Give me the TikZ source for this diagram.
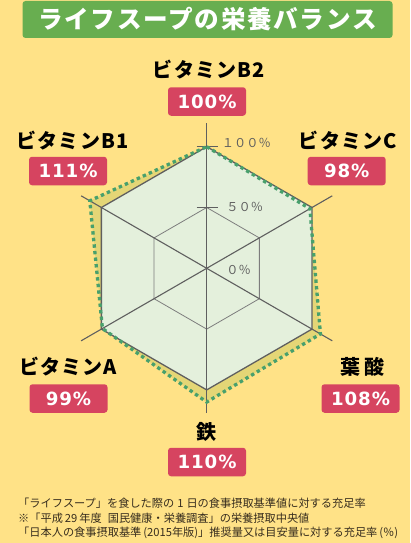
\documentclass[tikz,border=0pt]{standalone}
\usepackage{fontspec}
\newfontfamily\jp{Noto Sans CJK JP}
\newfontfamily\num{DejaVu Sans}
\definecolor{bg}{RGB}{255,226,135}
\definecolor{titlegreen}{RGB}{104,174,80}
\definecolor{badge}{RGB}{214,68,96}
\definecolor{hexfill}{RGB}{228,240,220}
\definecolor{datafill}{RGB}{228,214,118}
\definecolor{datagreen}{RGB}{72,160,108}
\definecolor{axisgray}{RGB}{95,95,95}
\definecolor{gridgray}{RGB}{125,125,125}
\definecolor{notecol}{RGB}{55,45,30}
\tikzset{
  titlebox/.style={fill=titlegreen,text=white,rounded corners=3pt,minimum width=370pt,minimum height=37pt,inner sep=0pt,
    font=\jp\bfseries\fontsize{24.6}{24.6}\selectfont\addfontfeature{LetterSpace=7}},
  lbl/.style={inner sep=0pt,font=\jp\bfseries\fontsize{20}{20}\selectfont\addfontfeature{LetterSpace=6}},
  pct/.style={fill=badge,text=white,rounded corners=3pt,minimum width=78pt,minimum height=28.5pt,inner sep=0pt,
    font=\num\bfseries\fontsize{18.2}{18.2}\selectfont\addfontfeature{LetterSpace=5}},
  scalelbl/.style={inner sep=0pt,anchor=west,text=axisgray,font=\jp\fontsize{12.2}{12.2}\selectfont},
  axisline/.style={draw=axisgray,line width=1.1pt},
  note/.style={inner sep=0pt,anchor=west,text=notecol,font=\jp\fontsize{11.2}{11.2}\selectfont},
  dataline/.style={draw=datagreen,line width=3.3pt,dash pattern=on 3.4pt off 3.2pt}
}
\begin{document}
\begin{tikzpicture}[x=1pt,y=-1pt]
\useasboundingbox (0,0) rectangle (410,543);
\fill[bg] (0,0) rectangle (410,543);
\node[titlebox] (title) at (207.5,19.5) {ライフスープの栄養バランス};

\begin{scope}[shift={(206.7,268.3)},yscale=-1]
\def\R{121.6}
\coordinate (O) at (0,0);
\coordinate (d1) at (90:{1.00*\R});
\coordinate (d2) at (30:{0.98*\R});
\coordinate (d3) at (-30:{1.08*\R});
\coordinate (d4) at (-90:{1.10*\R});
\coordinate (d5) at (-150:{0.99*\R});
\coordinate (d6) at (150:{1.11*\R});
\fill[datafill] (d1) -- (d2) -- (d3) -- (d4) -- (d5) -- (d6) -- cycle;
\filldraw[fill=hexfill,draw=axisgray,line width=1.3pt]
  (90:\R) -- (30:\R) -- (-30:\R) -- (-90:\R) -- (-150:\R) -- (150:\R) -- cycle;
\draw[draw=gridgray,line width=0.8pt]
  (90:{0.5*\R}) -- (30:{0.5*\R}) -- (-30:{0.5*\R}) -- (-90:{0.5*\R}) -- (-150:{0.5*\R}) -- (150:{0.5*\R}) -- cycle;
\foreach \a in {90,30,-30} \draw[axisline] (\a:145) -- (\a+180:145);
\draw[axisline] (-10,\R) -- (11,\R);
\draw[axisline] (-10,{0.5*\R}) -- (11,{0.5*\R});
\node[scalelbl] (s100) at (15,125.3) {１００％};
\node[scalelbl] (s50) at (19.5,61) {５０％};
\node[scalelbl] (s0) at (19.5,-1.7) {０％};
\draw[dataline] (d1) -- (d2) -- (d3) -- (d4) -- (d5) -- (d6) -- cycle;
\end{scope}

\node[lbl] (lB2) at (209,70) {ビタミンB2};
\node[pct] (pB2) at (207,101.5) {100\%};
\node[lbl] (lB1) at (72.5,141) {ビタミンB1};
\node[pct] (pB1) at (68,171) {111\%};
\node[lbl] (lC) at (348,141) {ビタミンC};
\node[pct] (pC) at (346.7,171) {98\%};
\node[lbl] (lA) at (68,367) {ビタミンA};
\node[pct] (pA) at (68.5,398.5) {99\%};
\node[lbl] (lF) at (362.5,367) {葉\hspace{4pt}酸};
\node[pct] (pF) at (360.5,398.5) {108\%};
\node[lbl] (lFe) at (206.5,432) {鉄};
\node[pct] (pFe) at (207,462) {110\%};

\node[note] (n1) at (18,503) {「ライフスープ」を食した際の\hspace{3pt}1\hspace{3pt}日の食事摂取基準値に対する充足率};
\node[note] (n2) at (18,518) {※「平成\hspace{2pt}29\hspace{2pt}年度\hspace{6pt}国民健康・栄養調査」の栄養摂取中央値};
\node[note] (n3) at (18,533) {「日本人の食事摂取基準\hspace{2pt}(2015年版)」推奨量又は目安量に対する充足率\hspace{2pt}(％)};
\end{tikzpicture}
\end{document}
